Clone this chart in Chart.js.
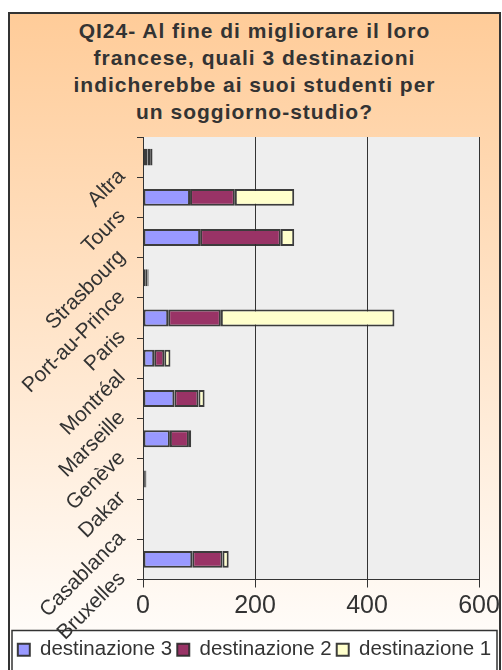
<!DOCTYPE html>
<html>
<head>
<meta charset="utf-8">
<title>QI24 destinazioni</title>
<script src="https://cdn.jsdelivr.net/npm/chart.js"></script>
<style>
    body {
        margin: 0;
        background: #fff;
        overflow: hidden;
    }
    .frame {
        position: absolute;
        left: 8px;
        top: 12px;
        width: 489px;
        height: 660px;
        border: 2px solid #333;
        background: linear-gradient(#FFCC99, #FFFFFF);
    }
    .title {
        position: absolute;
        left: 0;
        top: 3px;
        width: 100%;
        text-align: center;
        font: bold 21px "Liberation Sans", Arial, sans-serif;
        letter-spacing: 1px;
        line-height: 27px;
        color: #333;
    }
    .chart-box {
        position: absolute;
        left: 0;
        top: 0;
        width: 489px;
        height: 660px;
    }
</style>
</head>
<body>
<div class="frame">
    <div class="title">QI24- Al fine di migliorare il loro<br>francese, quali 3 destinazioni<br>indicherebbe ai suoi studenti per<br>un soggiorno-studio?</div>
    <div class="chart-box"><canvas id="chart"></canvas></div>
</div>

<script>
    // categories from top to bottom, as in the picture
    const categories = ['Altra', 'Tours', 'Strasbourg', 'Port-au-Prince', 'Paris', 'Montréal',
        'Marseille', 'Genève', 'Dakar', 'Casablanca', 'Bruxelles'];
    const seriesNames = ['destinazione 3', 'destinazione 2', 'destinazione 1'];
    const dest3 = [8, 84, 102, 4, 45, 20, 56, 48, 2, 0, 88];
    const dest2 = [6, 80, 144, 4, 94, 18, 43, 34, 3, 0, 54];
    const dest1 = [3, 106, 24, 2, 310, 11, 11, 4, 1, 0, 11];
    const xTicks = [0, 200, 400, 600];

    const FONT = '"Liberation Sans", Arial, sans-serif';

    // plot area fill and white legend box
    const backdrop = {
        id: 'backdrop',
        beforeDraw(chart) {
            const ctx = chart.ctx;
            const a = chart.chartArea;
            const lg = chart.legend;
            ctx.save();
            ctx.fillStyle = '#EEEEEE';
            ctx.fillRect(a.left, a.top, a.right - a.left, a.bottom - a.top);
            ctx.fillStyle = '#FFFFFF';
            ctx.strokeStyle = '#333';
            ctx.lineWidth = 1.5;
            ctx.fillRect(2, lg.top - 4, chart.width - 4, 80);
            ctx.strokeRect(2, lg.top - 4, chart.width - 4, 80);
            ctx.restore();
        }
    };

    const mk = (label, data, color) => ({
        label: label,
        data: data,
        backgroundColor: color,
        borderColor: 'rgba(40,40,40,0.9)',
        borderWidth: 2,
        borderSkipped: false,
        barPercentage: 0.42,
        categoryPercentage: 1
    });

    new Chart(document.getElementById('chart'), {
        type: 'bar',
        data: {
            labels: categories,
            datasets: [
                mk(seriesNames[0], dest3, '#9999FF'),
                mk(seriesNames[1], dest2, '#993366'),
                mk(seriesNames[2], dest1, '#FFFFCC')
            ]
        },
        options: {
            indexAxis: 'y',
            responsive: true,
            maintainAspectRatio: false,
            animation: false,
            layout: { padding: { top: 123, right: 0, bottom: 4, left: 0 } },
            plugins: {
                legend: {
                    position: 'bottom',
                    labels: {
                        boxWidth: 12,
                        boxHeight: 12,
                        padding: 5,
                        color: '#333',
                        font: { family: FONT, size: 20.5 }
                    }
                },
                tooltip: { enabled: false }
            },
            scales: {
                x: {
                    stacked: true,
                    min: xTicks[0],
                    max: xTicks[xTicks.length - 1],
                    afterBuildTicks: s => { s.ticks = xTicks.map(v => ({ value: v })); },
                    ticks: { color: '#333', font: { family: FONT, size: 25 }, padding: 4 },
                    grid: { color: '#333', lineWidth: 1, tickLength: 8 },
                    border: { color: '#333', width: 1 },
                    afterFit: s => { s.height = 55; s.paddingRight = 20; }
                },
                y: {
                    stacked: true,
                    grid: { offset: true, drawOnChartArea: false, tickLength: 6, color: '#333' },
                    border: { color: '#333', width: 1 },
                    ticks: {
                        autoSkip: false,
                        minRotation: 45,
                        maxRotation: 45,
                        labelOffset: 16,
                        padding: 15,
                        color: '#333',
                        font: { family: FONT, size: 21 }
                    },
                    afterFit: s => { s.width = 133; }
                }
            }
        },
        plugins: [backdrop]
    });
</script>
</body>
</html>
